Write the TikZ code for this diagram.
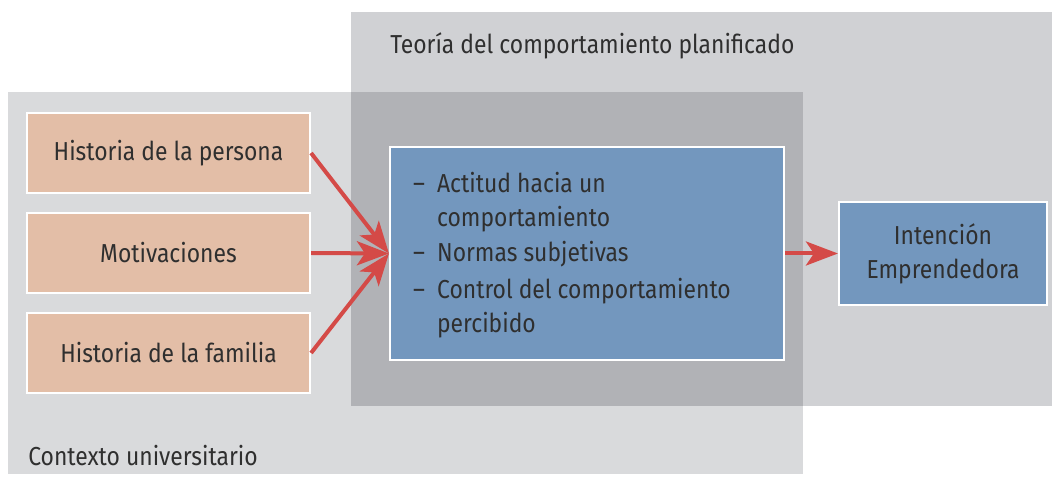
\documentclass[tikz,border=0pt]{standalone}
\usepackage{fontspec}
\setmainfont{Fira Sans}[FakeStretch=0.88]
\usetikzlibrary{arrows.meta,positioning}
\definecolor{ctxgray}{RGB}{217,218,220}
\definecolor{tpbgray}{RGB}{208,209,212}
\definecolor{overgray}{RGB}{177,178,182}
\definecolor{peach}{RGB}{227,190,167}
\definecolor{steel}{RGB}{115,151,190}
\definecolor{arrowred}{RGB}{212,74,71}
\definecolor{inkgray}{RGB}{47,47,47}
\tikzset{
  peachbox/.style={draw=white, line width=1.5pt, fill=peach, minimum width=7.075cm, minimum height=2.0cm, inner sep=0pt},
  bluebox/.style={draw=white, line width=1.5pt, fill=steel, inner sep=0pt},
  redarrow/.style={draw=arrowred, line width=0.1cm, -{Stealth[length=0.8cm, width=0.6cm, inset=0.2cm]}}
}
\begin{document}
\begin{tikzpicture}[color=inkgray]
                \useasboundingbox (0,0) rectangle (26.300000,11.950000);
                {\fontsize{18.5}{24.2}\selectfont
                
                % Drawing area Contexto universitario
                \fill [ctxgray] (0.200000,0.100000) rectangle (20.075000,9.650000);%
                
                % Drawing area Teoria del comportamiento planificado
                \fill [tpbgray] (8.775000,1.800000) rectangle (26.300000,11.650000);%
                
                % Drawing area overlap
                \fill [overgray] (8.775000,1.800000) rectangle (20.075000,9.650000);%
                
                % Drawing box persona
                \node [peachbox] (persona) at (4.212500,8.125000) {Historia de la persona};%
                
                % Drawing box motivaciones
                \node [peachbox] (motiv) at (4.212500,5.625000) {Motivaciones};%
                
                % Drawing box familia
                \node [peachbox] (familia) at (4.212500,3.125000) {Historia de la familia};%
                
                % Drawing box TPB
                \node [bluebox, minimum width=9.850000cm, minimum height=5.325000cm] (tpb) at (14.675000,5.612500) {};%
                \node [anchor=west, inner sep=0pt] (items) at ([xshift=0.6cm,yshift=-0.05cm]tpb.west) {%
                  \begin{tabular}{@{}l@{\hspace{0.3cm}}l@{}}
                  -- & Actitud hacia un\\
                     & comportamiento\\[1pt]
                  -- & Normas subjetivas\\[2pt]
                  -- & Control del comportamiento\\
                     & percibido
                  \end{tabular}};%
                
                % Drawing box intencion
                \node [bluebox, minimum width=5.200000cm, minimum height=2.575000cm, align=center] (intencion) at (23.575000,5.612500) {Intención\\Emprendedora};%
                
                % Drawing arrows
                \draw [redarrow] (persona.east) -- (tpb.west);%
                \draw [redarrow] (motiv.east) -- (tpb.west);%
                \draw [redarrow] (familia.east) -- (tpb.west);%
                \draw [redarrow] (tpb.east) -- (intencion.west);%
                
                % Marking area Teoria
                \draw (9.750000,10.800000) node [anchor=west, inner sep=0pt] (tpblabel) {Teoría del comportamiento planificado};%
                
                % Marking area Contexto
                \draw (0.700000,0.550000) node [anchor=west, inner sep=0pt] (ctxlabel) {Contexto universitario};%
                }
            \end{tikzpicture}
\end{document}
